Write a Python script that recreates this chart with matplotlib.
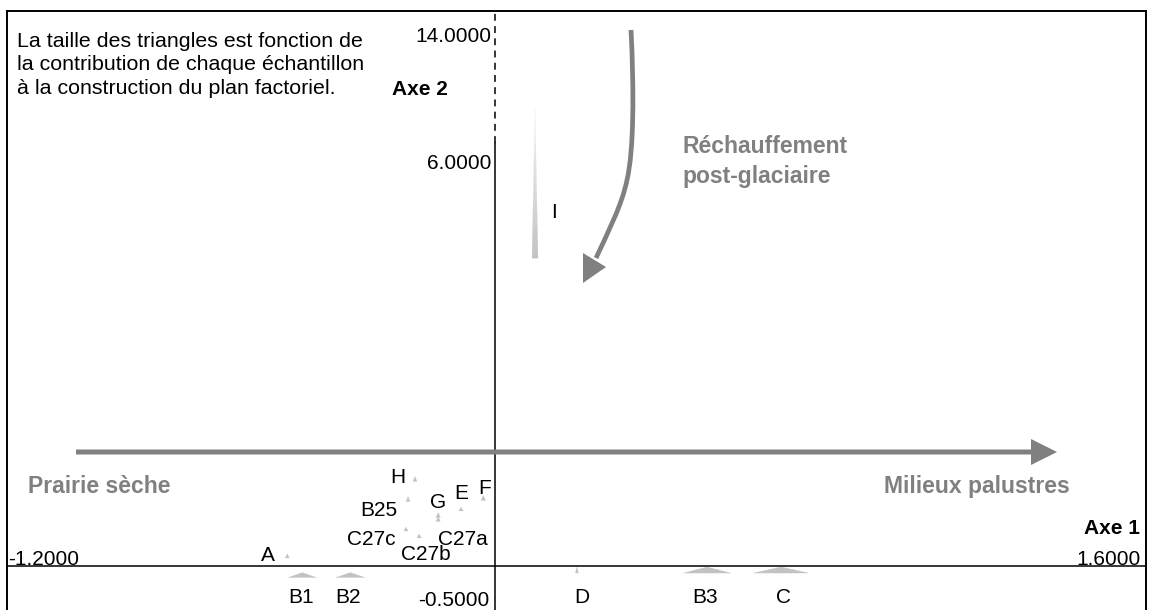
import numpy as np
import matplotlib
matplotlib.use("Agg")
import matplotlib.pyplot as plt
from matplotlib import transforms
from matplotlib.patches import Polygon, PathPatch
from matplotlib.path import Path

plt.rcParams['font.family'] = ['Liberation Sans', 'DejaVu Sans']

# ---------------- data ----------------
samples = ["A", "B1", "B2", "B3", "C", "D", "E", "F", "G", "C27a",
           "H", "I", "B25", "C27b", "C27c"]
axe1 = [-0.511, -0.474, -0.356, 0.521, 0.703, 0.201, -0.084, -0.029, -0.140, -0.140,
        -0.197, 0.098, -0.214, -0.187, -0.219]
axe2 = [0.142, -0.128, -0.128, -0.057, -0.057, -0.057, 0.809, 0.965, 0.723, 0.667,
        1.234, 5.43, 0.950, 0.426, 0.525]
# contributions (%) to axis 1 and axis 2 -> triangle width / height
ctr1 = [0.8, 17.2, 17.9, 30.3, 35.9, 0.0, 1.0, 1.0, 1.0, 0.8, 0.7, 2.0, 0.7, 1.0, 0.7]
ctr2 = [0.6, 1.2, 1.2, 1.9, 1.9, 1.9, 0.6, 1.2, 1.2, 1.2, 1.2, 91.9, 1.2, 0.6, 0.6]

x_ticks = [-1.2, 1.6]
y_ticks = [-0.5, 6.0, 14.0]
y_break = 6.0

note = ("La taille des triangles est fonction de\n"
        "la contribution de chaque échantillon\n"
        "à la construction du plan factoriel.")

# ---------------- style ----------------
W, H, DPI = 1158, 610, 100
GREY = "#808080"
FS = 15
FS_NOTE = 15.4
FS_BIG = 16.5
label_off = {  # pixel offsets of sample labels (dx, dy up)
    "A": (-19, 3), "B1": (-1, -20), "B2": (-2, -20), "B3": (-2, -25), "C": (2, -25),
    "D": (5, -25), "E": (0, 17), "F": (1, 11), "G": (0, 15), "C27a": (25, -19),
    "H": (-17, 4), "I": (19, -27), "B25": (-29, -9), "C27b": (7, -17), "C27c": (-35, -9),
}
COMP = 0.234  # compression of the broken upper part of axis 2


def fwd(y):
    y = np.asarray(y, float)
    return np.where(y <= y_break, y, y_break + (y - y_break) * COMP)


def inv(v):
    v = np.asarray(v, float)
    return np.where(v <= y_break, v, y_break + (v - y_break) / COMP)


fig = plt.figure(figsize=(W / DPI, H / DPI), dpi=DPI)
ax = fig.add_axes([7 / W, 1 - 616 / H, 1139 / W, 605 / H])
ax.set_yscale('function', functions=(fwd, inv))
ax.set_xlim(x_ticks[0], x_ticks[1])
ax.set_ylim(-0.709, y_ticks[2])
ax.set_autoscale_on(False)
ax.set_xticks([])
ax.set_yticks([])
ax.minorticks_off()
for s in ax.spines.values():
    s.set_linewidth(1.4)
    s.set_color("black")

# axes lines
ax.axhline(0, color="black", lw=1.1, zorder=2)
ax.plot([0, 0], [-0.709, y_break], color="black", lw=1.1, zorder=2)
ax.plot([0, 0], [y_break, y_ticks[2]], color="black", lw=1.1,
        ls=(0, (4.5, 3.5)), zorder=2)

# triangles
base_c = np.array([0.76, 0.76, 0.76])
light_c = np.array([0.96, 0.96, 0.96])
for name, x, y, c1, c2 in zip(samples, axe1, axe2, ctr1, ctr2):
    w = 3 + 1.45 * c1
    h = 3 + 1.6 * c2
    tr = fig.dpi_scale_trans + transforms.ScaledTranslation(x, y, ax.transData)
    n = max(1, int(h / 3))
    for k in range(n):
        t0, t1 = k / n, (k + 1) / n
        yb, yt = -h / 2 + t0 * h, -h / 2 + t1 * h
        wb, wt = w * (1 - t0) / 2, w * (1 - t1) / 2
        verts = np.array([(-wb, yb), (wb, yb), (wt, yt), (-wt, yt)]) / DPI
        col = base_c + (light_c - base_c) * ((t0 + t1) / 2 if n > 2 else 0.0)
        ax.add_patch(Polygon(verts, closed=True, transform=tr, facecolor=col,
                             edgecolor=col, lw=0.2, zorder=3))
    dx, dy = label_off[name]
    ax.annotate(name, (x, y), xytext=(dx, dy), textcoords="offset pixels",
                ha="center", va="center_baseline", fontsize=FS, zorder=4)

# axis extreme labels
ax.annotate(f"{y_ticks[2]:.4f}", (0, y_ticks[2]), xytext=(-4, -23), textcoords="offset pixels",
            ha="right", va="center_baseline", fontsize=FS)
ax.annotate(f"{y_ticks[1]:.4f}", (0, y_ticks[1]), xytext=(-4, -19), textcoords="offset pixels",
            ha="right", va="center_baseline", fontsize=FS)
ax.annotate(f"{y_ticks[0]:.4f}", (0, y_ticks[0]), xytext=(-6, 3), textcoords="offset pixels",
            ha="right", va="center_baseline", fontsize=FS)
ax.annotate(f"{x_ticks[0]:.4f}", (x_ticks[0], 0), xytext=(1, 1), textcoords="offset pixels",
            ha="left", va="baseline", fontsize=FS)
ax.annotate(f"{x_ticks[1]:.4f}", (x_ticks[1], 0), xytext=(-5, 1), textcoords="offset pixels",
            ha="right", va="baseline", fontsize=FS)
ax.annotate("Axe 1", (x_ticks[1], 0), xytext=(-6, 40), textcoords="offset pixels",
            ha="right", va="center_baseline", fontsize=FS, fontweight="bold")
ax.annotate("Axe 2", (0, y_ticks[2]), xytext=(-47, -76), textcoords="offset pixels",
            ha="right", va="center_baseline", fontsize=FS, fontweight="bold")

# decorations in reference pixel coordinates (y downwards)
pix = transforms.Affine2D().scale(1, -1).translate(0, H)

ax.text(17, 32, note, transform=pix, ha="left", va="top", fontsize=FS_NOTE, linespacing=1.3)

# horizontal gradient arrow
harrow = [(76, 449.5), (1031, 449.5), (1031, 439), (1057, 452), (1031, 465),
          (1031, 454.5), (76, 454.5)]
ax.add_patch(Polygon(harrow, closed=True, transform=pix, facecolor=GREY,
                     edgecolor="none", zorder=5))
ax.text(28, 484, "Prairie sèche", transform=pix, ha="left", va="center_baseline",
        fontsize=FS_BIG, fontweight="bold", color=GREY)
ax.text(1070, 484, "Milieux palustres", transform=pix, ha="right", va="center_baseline",
        fontsize=FS_BIG, fontweight="bold", color=GREY)

# curved arrow
verts = [(631, 30), (634, 90), (634, 150), (627, 180), (622, 205), (608, 232), (596, 258)]
codes = [Path.MOVETO, Path.CURVE4, Path.CURVE4, Path.CURVE4, Path.CURVE4, Path.CURVE4, Path.CURVE4]
ax.add_patch(PathPatch(Path(verts, codes), transform=pix, facecolor="none",
                       edgecolor=GREY, lw=3.4, zorder=5, capstyle="butt"))
ax.add_patch(Polygon([(583, 253), (606, 267), (583, 283)], closed=True, transform=pix,
                     facecolor=GREY, edgecolor="none", zorder=5))
ax.text(682, 153, "Réchauffement", transform=pix, ha="left", va="baseline",
        fontsize=FS_BIG, fontweight="bold", color=GREY)
ax.text(682, 183, "post-glaciaire", transform=pix, ha="left", va="baseline",
        fontsize=FS_BIG, fontweight="bold", color=GREY)

fig.savefig("out.png", dpi=DPI)
